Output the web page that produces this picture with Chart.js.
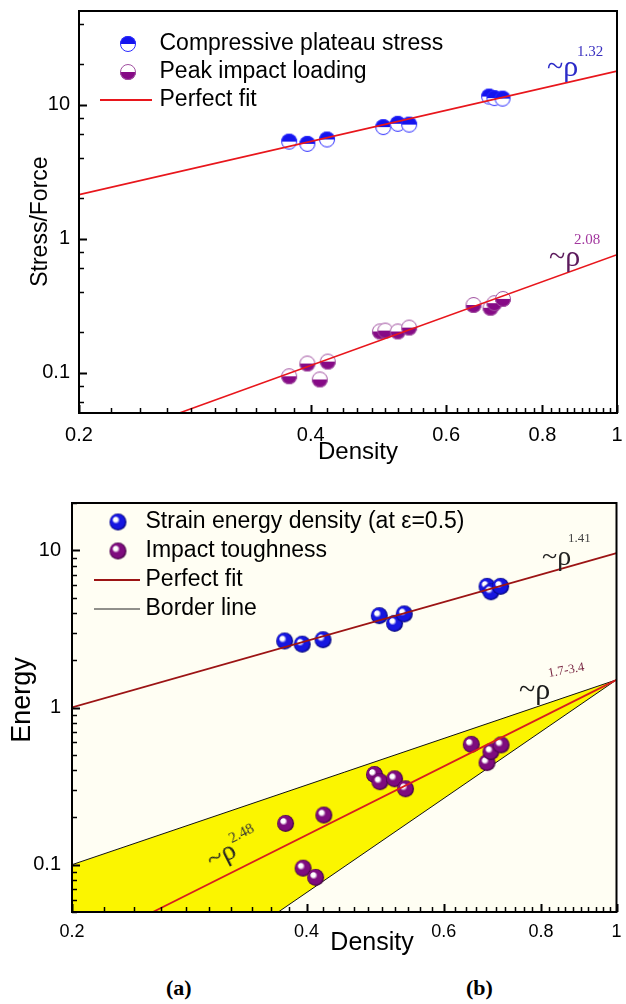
<!DOCTYPE html>
<html><head><meta charset="utf-8">
<script src="https://cdn.jsdelivr.net/npm/chart.js@4.4.1/dist/chart.umd.min.js"></script>
<style>
html,body{margin:0;padding:0;background:#fff;}
#wrap{position:relative;width:626px;height:1004px;overflow:hidden;background:#fff;}
canvas{position:absolute;left:0;}
#c1{top:0;}
#c2{top:470px;}
.ann{position:absolute;font-family:"Liberation Serif","Times New Roman",serif;line-height:1;white-space:nowrap;}
.lab{position:absolute;font-family:"Liberation Serif","Times New Roman",serif;font-weight:bold;font-size:22px;line-height:1;}
</style></head>
<body><div id="wrap">
<canvas id="c1" width="626" height="470"></canvas>
<canvas id="c2" width="626" height="490"></canvas>

<div class="ann" style="left:547px;top:51px;font-size:30px;color:#2b2bc8">~ρ</div>
<div class="ann" style="left:577px;top:44px;font-size:15px;color:#3a30c0">1.32</div>

<div class="ann" style="left:549px;top:241px;font-size:30px;color:#5c1a5c">~ρ</div>
<div class="ann" style="left:574px;top:232px;font-size:15px;color:#a2379e">2.08</div>

<div class="ann" style="left:542px;top:542px;font-size:28px;color:#222">~ρ</div>
<div class="ann" style="left:568px;top:531px;font-size:13px;color:#444">1.41</div>

<div class="ann" style="left:519px;top:674px;font-size:30px;color:#1a1a1a">~ρ</div>
<div class="ann" style="left:549px;top:666px;font-size:13px;color:#7a2a45;transform:rotate(-10deg);transform-origin:0 100%">1.7-3.4</div>

<div class="ann" style="left:212px;top:846px;font-size:28px;color:#222;transform:rotate(-27deg);transform-origin:0 23px">~ρ<span style="font-size:15px;position:relative;top:-14px;color:#333">2.48</span></div>

<div class="lab" style="left:166px;top:977px">(a)</div>
<div class="lab" style="left:466px;top:977px">(b)</div>
</div>
<script>
// ---------- data ----------
const cpDensity = [0.375, 0.396, 0.420, 0.497, 0.519, 0.537, 0.682, 0.693, 0.710];
const cpStress  = [5.3, 5.1, 5.5, 6.8, 7.2, 7.1, 11.5, 11.2, 11.1];

const piDensity = [0.375, 0.396, 0.411, 0.421, 0.492, 0.500, 0.519, 0.537, 0.651, 0.685, 0.693, 0.711];
const piForce   = [0.094, 0.117, 0.089, 0.121, 0.203, 0.206, 0.203, 0.217, 0.32, 0.305, 0.33, 0.355];

const fitTopAX = [0.2, 1];   const fitTopAY = [2.13, 17.8];
const fitTopBX = [0.27, 1];  const fitTopBY = [0.05, 0.76];

const seDensity = [0.375, 0.395, 0.420, 0.496, 0.519, 0.534, 0.682, 0.690, 0.710];
const seEnergy  = [2.65, 2.53, 2.7, 3.84, 3.43, 3.94, 5.9, 5.45, 5.9];

const itDensity = [0.376, 0.396, 0.411, 0.421, 0.489, 0.497, 0.519, 0.536, 0.651, 0.682, 0.690, 0.711];
const itEnergy  = [0.183, 0.095, 0.083, 0.207, 0.375, 0.337, 0.352, 0.304, 0.583, 0.446, 0.524, 0.578];

const fitBotAX = [0.2, 1];    const fitBotAY = [1.0, 9.6];
const fitBotBX = [0.254, 1];  const fitBotBY = [0.05, 1.5];
const borderUpX = [0.2, 1];   const borderUpY = [0.1, 1.5];
const borderLowX = [0.368, 1]; const borderLowY = [0.05, 1.5];

// ---------- ticks ----------
const xMajor = [0.2, 0.4, 0.6, 0.8, 1];
const xLabels = ['0.2', '0.4', '0.6', '0.8', '1'];
const xMinor = [0.22,0.24,0.26,0.28,0.3,0.32,0.34,0.36,0.38,0.42,0.44,0.46,0.48,0.5,0.52,0.54,0.56,0.58,
                0.62,0.64,0.66,0.68,0.7,0.72,0.74,0.76,0.78,0.82,0.84,0.86,0.88,0.9,0.92,0.94,0.96,0.98];
const yMajor = [0.1, 1, 10];
const yLabels = ['0.1', '1', '10'];
const yMinorTop = [0.06, 0.08, 0.2, 0.4, 0.6, 0.8, 2, 4, 6, 8, 20, 40];
const yMinorBot = [0.05,0.06,0.07,0.08,0.09,0.2,0.3,0.4,0.5,0.6,0.7,0.8,0.9,2,3,4,5,6,7,8,9,20];

const FONT = "'Liberation Sans', Arial, sans-serif";
Chart.defaults.font.family = FONT;
Chart.defaults.color = '#000';

const pts = (xs, ys) => xs.map((x, i) => ({x: x, y: ys[i]}));

// ---------- marker images ----------
function halfCircle(r, topFill, botFill, stroke) {
  const s = Math.ceil(2 * r + 2), c = document.createElement('canvas');
  c.width = c.height = s;
  const g = c.getContext('2d'), cx = s / 2, cy = s / 2;
  g.beginPath(); g.arc(cx, cy, r, Math.PI, 2 * Math.PI); g.closePath(); g.fillStyle = topFill; g.fill();
  g.beginPath(); g.arc(cx, cy, r, 0, Math.PI); g.closePath(); g.fillStyle = botFill; g.fill();
  g.beginPath(); g.arc(cx, cy, r - 0.5, 0, 2 * Math.PI); g.strokeStyle = stroke; g.lineWidth = 1; g.stroke();
  return c;
}
function sphere(r, base, dark) {
  const s = Math.ceil(2 * r + 2), c = document.createElement('canvas');
  c.width = c.height = s;
  const g = c.getContext('2d'), cx = s / 2, cy = s / 2;
  const grd = g.createRadialGradient(cx - r * 0.38, cy - r * 0.38, r * 0.05, cx, cy, r);
  grd.addColorStop(0, '#ffffff');
  grd.addColorStop(0.22, '#ffffff');
  grd.addColorStop(0.42, base);
  grd.addColorStop(0.8, base);
  grd.addColorStop(1, dark);
  g.fillStyle = grd;
  g.beginPath(); g.arc(cx, cy, r, 0, 2 * Math.PI); g.fill();
  return c;
}
function legendSym(W, H, marker, dx, line) {
  const c = document.createElement('canvas');
  c.width = W; c.height = H;
  const g = c.getContext('2d');
  if (marker) g.drawImage(marker, W / 2 + dx - marker.width / 2, H / 2 - marker.height / 2);
  if (line) {
    g.beginPath(); g.moveTo(W / 2 + line.x1, H / 2); g.lineTo(W / 2 + line.x2, H / 2);
    g.strokeStyle = line.color; g.lineWidth = line.width; g.stroke();
  }
  return c;
}

const mkCP = halfCircle(8, '#1414ee', '#ffffff', '#2a2aff');
const mkPI = halfCircle(8, '#ffffff', '#860a86', '#a050a0');
const mkSE = sphere(8.5, '#1616e0', '#00006a');
const mkIT = sphere(8.5, '#7e0c7e', '#380038');

// ---------- plugins ----------
function drawTickMarks(c) {
  const a = c.chartArea, ctx = c.ctx;
  const xs = c.scales.x, ys = c.scales.y;
  ctx.save();
  ctx.strokeStyle = '#000000';
  ctx.globalAlpha = 1;
  ctx.setLineDash([]);
  const xv = xMajor.concat(xMinor), yv = yMajor.concat(c.canvas.id === 'c1' ? yMinorTop : yMinorBot);
  xv.forEach(v => {
    const isMaj = xMajor.indexOf(v) >= 0;
    const p = Math.round(xs.getPixelForValue(v)) + 0.5;
    ctx.lineWidth = isMaj ? 2 : 1.5;
    ctx.beginPath(); ctx.moveTo(p, a.bottom); ctx.lineTo(p, a.bottom - (isMaj ? 8 : 5)); ctx.stroke();
  });
  yv.forEach(v => {
    const isMaj = yMajor.indexOf(v) >= 0;
    const p = Math.round(ys.getPixelForValue(v)) + 0.5;
    ctx.lineWidth = isMaj ? 2 : 1.5;
    ctx.beginPath(); ctx.moveTo(a.left, p); ctx.lineTo(a.left + (isMaj ? 8 : 5), p); ctx.stroke();
  });
  ctx.lineWidth = 2;
  ctx.strokeRect(a.left, a.top, a.right - a.left, a.bottom - a.top);
  ctx.restore();
}
const frame = {id: 'frame', afterDraw(c) { drawTickMarks(c); }};
const cream = {
  id: 'cream',
  beforeDraw(c) {
    const a = c.chartArea, ctx = c.ctx;
    ctx.save(); ctx.fillStyle = '#fffef3';
    ctx.fillRect(a.left, a.top, a.right - a.left, a.bottom - a.top);
    ctx.restore();
  }
};

function logAxis(min, max, major, labels, minor, o) {
  return {
    type: 'logarithmic', min: min, max: max, position: o.position,
    afterBuildTicks(s) {
      const all = major.map(v => ({value: v, major: true})).concat(minor.map(v => ({value: v, major: false})));
      all.sort((a, b) => a.value - b.value);
      s.ticks = all;
    },
    afterFit(s) {
      if (o.position === 'bottom') { s.height = o.size; s.paddingLeft = 0; s.paddingRight = 0; }
      else { s.width = o.size; s.paddingTop = 0; s.paddingBottom = 0; }
    },
    ticks: {
      autoSkip: false, maxRotation: 0, minRotation: 0, padding: o.pad, color: '#000',
      font: {size: o.fontSize, family: FONT},
      callback: (v) => { const i = major.findIndex(m => Math.abs(m - v) < 1e-9); return i >= 0 ? labels[i] : ''; }
    },
    grid: {display: true, drawOnChartArea: false, drawTicks: false, tickLength: 0},
    border: {display: true, color: '#000', width: 2},
    title: {display: true, text: o.title, color: '#000', font: {size: o.titleSize, family: FONT}, padding: o.titlePad}
  };
}

// ---------- chart (a) ----------
const legendTop = [
  {text: 'Compressive plateau stress', sym: legendSym(80, 24, mkCP, 12, null), idx: 0},
  {text: 'Peak impact loading', sym: legendSym(80, 24, mkPI, 12, null), idx: 1},
  {text: 'Perfect fit', sym: legendSym(80, 24, null, 0, {x1: -16, x2: 36, color: '#e8161c', width: 2}), idx: 2}
];

new Chart(document.getElementById('c1'), {
  type: 'scatter',
  data: {
    datasets: [
      {label: 'Compressive plateau stress', data: pts(cpDensity, cpStress), pointStyle: mkCP, pointRadius: 8, order: 2},
      {label: 'Peak impact loading', data: pts(piDensity, piForce), pointStyle: mkPI, pointRadius: 8, order: 2},
      {label: 'Perfect fit', data: pts(fitTopAX, fitTopAY), showLine: true, pointRadius: 0, borderColor: '#e8161c', borderWidth: 1.6, order: 1},
      {label: 'Perfect fit 2', data: pts(fitTopBX, fitTopBY), showLine: true, pointRadius: 0, borderColor: '#e8161c', borderWidth: 1.6, order: 1}
    ]
  },
  options: {
    responsive: false, animation: false, devicePixelRatio: 1, events: [],
    layout: {padding: {left: 0, top: 11, right: 4, bottom: 0}},
    scales: {
      x: logAxis(0.2, 1, xMajor, xLabels, xMinor, {position: 'bottom', size: 57, pad: 10, fontSize: 20, title: '   Density', titleSize: 24, titlePad: {top: 0, bottom: 3}}),
      y: logAxis(0.05, 50, yMajor, yLabels, yMinorTop, {position: 'left', size: 79, pad: 9, fontSize: 20, title: 'Stress/Force   ', titleSize: 23, titlePad: {top: 27, bottom: 0}})
    },
    plugins: {
      tooltip: {enabled: false},
      legend: {
        position: 'chartArea', align: 'start',
        title: {display: true, text: ' ', padding: 0, font: {size: 10, lineHeight: 2.75}},
        labels: {
          usePointStyle: true, pointStyleWidth: 64, padding: 5, color: '#000',
          font: {size: 23, family: FONT},
          generateLabels: () => legendTop.map(l => ({text: l.text, pointStyle: l.sym, fillStyle: 'rgba(0,0,0,0)', strokeStyle: 'rgba(0,0,0,0)', lineWidth: 0, hidden: false, datasetIndex: l.idx, fontColor: '#000'}))
        }
      }
    }
  },
  plugins: [frame]
});

// ---------- chart (b) ----------
const legendBot = [
  {text: 'Strain energy density (at ε=0.5)', sym: legendSym(80, 24, mkSE, 12, null), idx: 0},
  {text: 'Impact toughness', sym: legendSym(80, 24, mkIT, 12, null), idx: 1},
  {text: 'Perfect fit', sym: legendSym(80, 24, null, 0, {x1: -12, x2: 34, color: '#9c1414', width: 2}), idx: 2},
  {text: 'Border line', sym: legendSym(80, 24, null, 0, {x1: -12, x2: 34, color: '#222', width: 1}), idx: 4}
];

new Chart(document.getElementById('c2'), {
  type: 'scatter',
  data: {
    datasets: [
      {label: 'Strain energy density (at ε=0.5)', data: pts(seDensity, seEnergy), pointStyle: mkSE, pointRadius: 8.5, order: 2},
      {label: 'Impact toughness', data: pts(itDensity, itEnergy), pointStyle: mkIT, pointRadius: 8.5, order: 2},
      {label: 'Perfect fit', data: pts(fitBotAX, fitBotAY), showLine: true, pointRadius: 0, borderColor: '#9c1414', borderWidth: 1.8, order: 1},
      {label: 'Perfect fit 2', data: pts(fitBotBX, fitBotBY), showLine: true, pointRadius: 0, borderColor: '#d81e1e', borderWidth: 1.8, order: 1},
      {label: 'Border line', data: pts(borderUpX, borderUpY), showLine: true, pointRadius: 0, borderColor: '#111', borderWidth: 1, fill: 'start', backgroundColor: '#fbf500', order: 10},
      {label: 'Border line 2', data: pts(borderLowX, borderLowY), showLine: true, pointRadius: 0, borderColor: '#111', borderWidth: 1, fill: 'start', backgroundColor: '#fffef3', order: 9}
    ]
  },
  options: {
    responsive: false, animation: false, devicePixelRatio: 1, events: [],
    layout: {padding: {left: 0, top: 33, right: 4, bottom: 0}},
    scales: {
      x: logAxis(0.2, 1, xMajor, xLabels, xMinor, {position: 'bottom', size: 48, pad: 9, fontSize: 18, title: '        Density', titleSize: 25, titlePad: {top: 0, bottom: 2}}),
      y: logAxis(0.05, 20, yMajor, yLabels, yMinorBot, {position: 'left', size: 72, pad: 11, fontSize: 20, title: '  Energy', titleSize: 27, titlePad: {top: 6, bottom: 0}})
    },
    plugins: {
      tooltip: {enabled: false},
      legend: {
        position: 'chartArea', align: 'start',
        title: {display: true, text: ' ', padding: 0, font: {size: 10, lineHeight: 3.45}},
        labels: {
          usePointStyle: true, pointStyleWidth: 56, padding: 6, color: '#000',
          font: {size: 23, family: FONT},
          generateLabels: () => legendBot.map(l => ({text: l.text, pointStyle: l.sym, fillStyle: 'rgba(0,0,0,0)', strokeStyle: 'rgba(0,0,0,0)', lineWidth: 0, hidden: false, datasetIndex: l.idx, fontColor: '#000'}))
        }
      }
    }
  },
  plugins: [cream, frame]
});
</script>
</body></html>
